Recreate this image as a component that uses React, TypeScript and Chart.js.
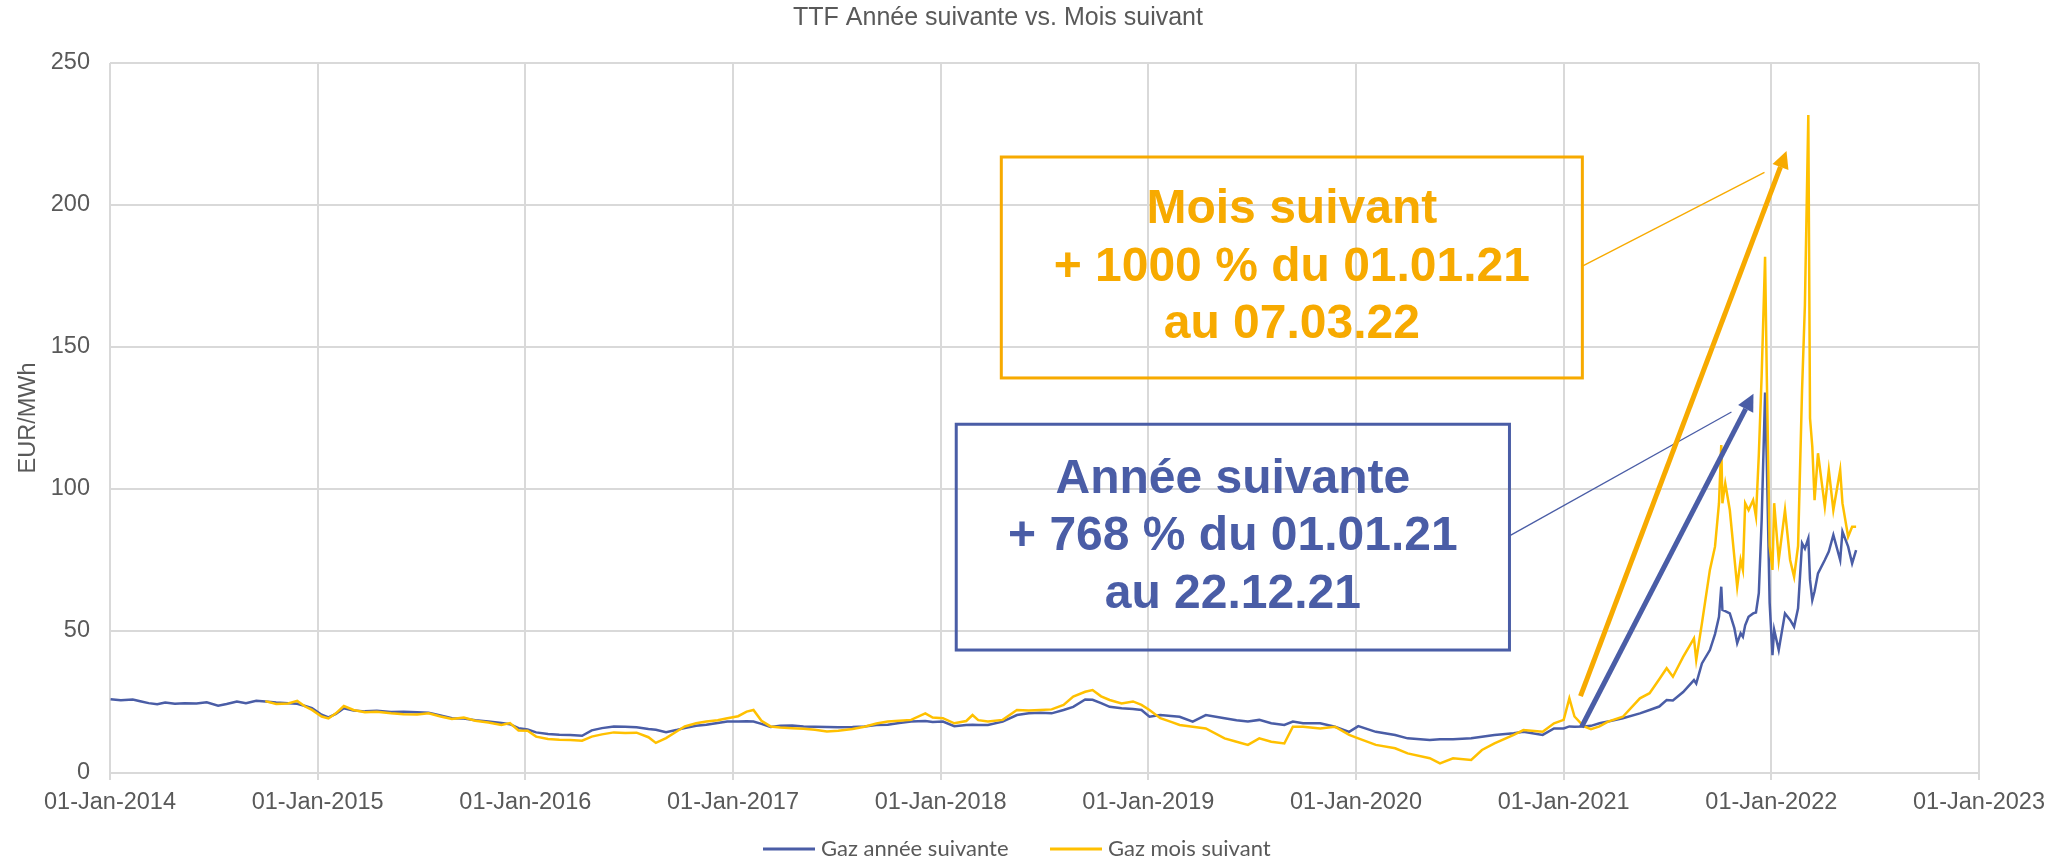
import React, { useEffect, useRef } from "react";
import { Chart, registerables } from "chart.js";

Chart.register(...registerables);

const TITLE = "TTF Année suivante vs. Mois suivant";
const Y_TITLE = "EUR/MWh";
const SERIES_NAMES = ["Gaz année suivante", "Gaz mois suivant"];
const X_TICKS = [2014, 2015, 2016, 2017, 2018, 2019, 2020, 2021, 2022, 2023];
const Y_TICKS = [0, 50, 100, 150, 200, 250];

const DATES = [
  "2014-01-02", "2014-01-20", "2014-02-10", "2014-02-25", "2014-03-10", "2014-03-25", "2014-04-08", "2014-04-25",
  "2014-05-12", "2014-06-02", "2014-06-20", "2014-07-10", "2014-07-25", "2014-08-12", "2014-08-28", "2014-09-15",
  "2014-10-01", "2014-10-20", "2014-11-10", "2014-11-26", "2014-12-10", "2014-12-22",
  "2015-01-08", "2015-01-20", "2015-02-02", "2015-02-16", "2015-03-05", "2015-03-25", "2015-04-15", "2015-05-10",
  "2015-06-01", "2015-06-25", "2015-07-15", "2015-08-05", "2015-08-25", "2015-09-15", "2015-10-05", "2015-10-28",
  "2015-11-20", "2015-12-05", "2015-12-20",
  "2016-01-05", "2016-01-20", "2016-02-10", "2016-03-01", "2016-03-20", "2016-04-10", "2016-04-27", "2016-05-15",
  "2016-06-05", "2016-06-25", "2016-07-15", "2016-08-05", "2016-08-18", "2016-09-05", "2016-09-25", "2016-10-08",
  "2016-10-28", "2016-11-15", "2016-12-05", "2016-12-22",
  "2017-01-10", "2017-01-25", "2017-02-06", "2017-02-20", "2017-03-08", "2017-03-25", "2017-04-15", "2017-05-05",
  "2017-05-25", "2017-06-15", "2017-07-05", "2017-07-30", "2017-08-20", "2017-09-10", "2017-09-30", "2017-10-20",
  "2017-11-10", "2017-12-05", "2017-12-18",
  "2018-01-05", "2018-01-25", "2018-02-15", "2018-02-26", "2018-03-08", "2018-03-25", "2018-04-20", "2018-05-15",
  "2018-06-05", "2018-06-25", "2018-07-15", "2018-08-05", "2018-08-22", "2018-09-12", "2018-09-25", "2018-10-10",
  "2018-10-25", "2018-11-15", "2018-12-05", "2018-12-20",
  "2019-01-03", "2019-01-22", "2019-02-10", "2019-02-25", "2019-03-20", "2019-04-12", "2019-05-15", "2019-06-05",
  "2019-06-25", "2019-07-15", "2019-08-05", "2019-08-28", "2019-09-12", "2019-09-30", "2019-10-30", "2019-11-25",
  "2019-12-20",
  "2020-01-05", "2020-02-05", "2020-03-10", "2020-04-01", "2020-05-10", "2020-05-28", "2020-06-20", "2020-07-22",
  "2020-08-10", "2020-09-01", "2020-10-05", "2020-10-22", "2020-11-25", "2020-12-15",
  "2021-01-01", "2021-01-11", "2021-01-20", "2021-02-05", "2021-02-18", "2021-03-05", "2021-03-20", "2021-04-15",
  "2021-05-15", "2021-06-01", "2021-06-18", "2021-07-01", "2021-07-12", "2021-07-30", "2021-08-18", "2021-08-22",
  "2021-09-01", "2021-09-15", "2021-09-24", "2021-10-01", "2021-10-05", "2021-10-07", "2021-10-12", "2021-10-20",
  "2021-10-28", "2021-11-02", "2021-11-08", "2021-11-12", "2021-11-16", "2021-11-22", "2021-11-30", "2021-12-05",
  "2021-12-10", "2021-12-15", "2021-12-21", "2021-12-24", "2021-12-29",
  "2022-01-03", "2022-01-06", "2022-01-14", "2022-01-25", "2022-02-03", "2022-02-10", "2022-02-17", "2022-02-24",
  "2022-03-01", "2022-03-07", "2022-03-10", "2022-03-14", "2022-03-18", "2022-03-24", "2022-04-05", "2022-04-12",
  "2022-04-20", "2022-05-02", "2022-05-06", "2022-05-16", "2022-05-23", "2022-05-30",
];

const ANNEE_SUIVANTE = [
  26.0, 25.6, 25.9, 25.2, 24.6, 24.2, 24.8, 24.4,
  24.6, 24.5, 24.9, 23.7, 24.3, 25.2, 24.6, 25.4,
  25.2, 24.8, 24.6, 24.4, 23.6, 22.8,
  20.5, 19.6, 20.8, 22.8, 22.0, 21.7, 21.9, 21.5,
  21.6, 21.4, 21.2, 20.3, 19.3, 19.2, 18.6, 18.1,
  17.6, 17.2, 15.8,
  15.3, 14.3, 13.7, 13.5, 13.4, 13.1, 15.0, 15.8,
  16.4, 16.3, 16.1, 15.5, 15.2, 14.4, 15.2, 15.8,
  16.6, 17.0, 17.6, 18.1,
  18.1, 18.2, 18.1, 17.3, 16.2, 16.6, 16.7, 16.4,
  16.3, 16.2, 16.1, 16.2, 16.4, 16.9, 17.0, 17.6,
  18.1, 18.3, 18.0,
  18.1, 16.5, 16.9, 17.0, 16.9, 16.9, 18.1, 20.4,
  21.0, 21.2, 21.0, 22.2, 23.3, 25.9, 25.8, 24.6,
  23.3, 22.8, 22.5, 22.2,
  19.8, 20.4, 20.1, 19.8, 18.1, 20.4, 19.3, 18.6,
  18.1, 18.7, 17.5, 16.9, 18.1, 17.5, 17.5, 16.3,
  14.5,
  16.5, 14.5, 13.4, 12.2, 11.6, 11.9, 11.9, 12.2,
  12.8, 13.4, 14.0, 14.5, 13.4, 15.7,
  15.7, 16.4, 16.3, 16.4, 16.6, 17.5, 18.1, 19.3,
  21.0, 22.2, 23.4, 25.7, 25.5, 28.5, 32.7, 31.5,
  38.6, 43.3, 48.9, 55.0, 65.6, 57.4, 57.0, 56.2,
  51.0, 45.7, 49.2, 48.0, 52.0, 55.0, 56.2, 56.5,
  63.3, 89.1, 134.0, 110.0, 60.0,
  41.5, 50.4, 43.3, 56.2, 53.9, 51.5, 58.0, 80.9,
  79.0, 82.6, 68.0, 60.9, 64.0, 70.3, 75.0, 78.0,
  83.8, 75.0, 85.0, 79.7, 73.8, 78.5,
];

const MOIS_SUIVANT = [
  null, null, null, null, null, null, null, null,
  null, null, null, null, null, null, null, null,
  25.3, 24.3, 24.5, 25.4, 23.4, 22.2,
  19.9, 19.2, 21.0, 23.6, 22.2, 21.4, 21.6, 21.0,
  20.7, 20.6, 21.0, 19.9, 19.0, 19.5, 18.4, 17.8,
  16.9, 17.6, 15.0,
  14.9, 12.8, 12.0, 11.7, 11.6, 11.4, 12.8, 13.6,
  14.3, 14.1, 14.2, 12.6, 10.6, 12.3, 14.8, 16.4,
  17.5, 18.1, 18.6, 19.3,
  20.0, 21.6, 22.2, 18.4, 16.4, 16.0, 15.8, 15.6,
  15.2, 14.6, 14.9, 15.5, 16.3, 17.4, 18.1, 18.4,
  18.7, 21.0, 19.5,
  19.3, 17.5, 18.3, 20.4, 18.6, 18.1, 18.7, 22.2,
  22.0, 22.2, 22.4, 24.0, 26.9, 28.6, 29.2, 27.0,
  25.7, 24.5, 25.2, 24.0,
  22.2, 19.3, 18.0, 16.9, 16.3, 15.7, 12.2, 11.0,
  9.9, 12.2, 11.0, 10.4, 16.3, 16.3, 15.7, 16.3,
  13.4,
  12.2, 9.9, 8.7, 6.9, 5.2, 3.4, 5.2, 4.6,
  8.1, 10.4, 13.4, 15.1, 14.5, 17.5,
  18.7, 26.3, 19.9, 16.5, 15.4, 16.4, 18.1, 19.8,
  26.3, 28.1, 33.0, 36.9, 33.9, 40.9, 47.4, 39.8,
  52.7, 71.5, 79.7, 95.0, 115.5, 95.0, 102.0, 92.6,
  76.0, 65.6, 75.0, 71.5, 95.0, 92.6, 96.1, 90.3,
  112.0, 140.0, 181.8, 140.0, 80.0,
  71.5, 95.0, 75.0, 92.6, 75.0, 69.1, 80.0, 134.9,
  164.8, 231.7, 124.9, 114.9, 96.1, 112.6, 93.8, 106.7,
  92.6, 106.7, 95.0, 83.2, 86.7, 86.7,
];

// Annotations, expressed in axis units (decimal years, EUR/MWh)
const BOXES = [
  { lines: ["Mois suivant", "+ 1000 % du 01.01.21", "au 07.03.22"], color: "#F7AA00", x0: 2018.292, x1: 2021.09, yTop: 216.9, yBottom: 139.1 },
  { lines: ["Année suivante", "+ 768 % du 01.01.21", "au 22.12.21"], color: "#4A5DA6", x0: 2018.075, x1: 2020.739, yTop: 122.8, yBottom: 43.3 },
];
const CONNECTORS = [
  { color: "#F7AA00", from: [2021.09, 178.5], to: [2021.967, 211.5] },
  { color: "#4A5DA6", from: [2020.739, 83.5], to: [2021.808, 127.1] },
];
const ARROWS = [
  { color: "#F7AA00", from: [2021.081, 27.1], to: [2022.073, 219.0] },
  { color: "#4A5DA6", from: [2021.086, 16.2], to: [2021.914, 133.5] },
];

const BLUE = "#4A5DA6";
const GOLD = "#FFC000";
const TEXT_GREY = "#595959";
const GRID = "#D9D9D9";
const SANS = "'Liberation Sans', Arial, sans-serif";

function toYear(d: string): number {
  const [y, m, day] = d.split("-").map(Number);
  const start = Date.UTC(y, 0, 1);
  const end = Date.UTC(y + 1, 0, 1);
  return y + (Date.UTC(y, m - 1, day) - start) / (end - start);
}

function drawArrow(ctx: CanvasRenderingContext2D, x0: number, y0: number, x1: number, y1: number, color: string) {
  const w = 5, headLen = 17, headW = 17;
  const ang = Math.atan2(y1 - y0, x1 - x0);
  const bx = x1 - headLen * Math.cos(ang);
  const by = y1 - headLen * Math.sin(ang);
  ctx.strokeStyle = color;
  ctx.lineWidth = w;
  ctx.lineCap = "butt";
  ctx.beginPath();
  ctx.moveTo(x0, y0);
  ctx.lineTo(bx, by);
  ctx.stroke();
  ctx.fillStyle = color;
  ctx.beginPath();
  ctx.moveTo(x1, y1);
  ctx.lineTo(bx + (headW / 2) * Math.sin(ang), by - (headW / 2) * Math.cos(ang));
  ctx.lineTo(bx - (headW / 2) * Math.sin(ang), by + (headW / 2) * Math.cos(ang));
  ctx.closePath();
  ctx.fill();
}

const decorPlugin = {
  id: "ttfDecor",
  afterDatasetsDraw(chart: any) {
    const { ctx } = chart;
    const xs = chart.scales.x;
    const ys = chart.scales.y;
    const px = (v: number) => xs.getPixelForValue(v);
    const py = (v: number) => ys.getPixelForValue(v);
    ctx.save();
    BOXES.forEach((b) => {
      const x0 = px(b.x0), x1 = px(b.x1), y0 = py(b.yTop), y1 = py(b.yBottom);
      ctx.strokeStyle = b.color;
      ctx.lineWidth = 3;
      ctx.strokeRect(x0, y0, x1 - x0, y1 - y0);
      ctx.fillStyle = b.color;
      ctx.font = `bold 48px ${SANS}`;
      ctx.textAlign = "center";
      ctx.textBaseline = "middle";
      const cx = (x0 + x1) / 2;
      const cy = (y0 + y1) / 2;
      const lh = 57.6;
      b.lines.forEach((t, i) => ctx.fillText(t, cx, cy + (i - (b.lines.length - 1) / 2) * lh));
    });
    CONNECTORS.forEach((c) => {
      ctx.strokeStyle = c.color;
      ctx.lineWidth = 1.3;
      ctx.beginPath();
      ctx.moveTo(px(c.from[0]), py(c.from[1]));
      ctx.lineTo(px(c.to[0]), py(c.to[1]));
      ctx.stroke();
    });
    ARROWS.forEach((a) => drawArrow(ctx, px(a.from[0]), py(a.from[1]), px(a.to[0]), py(a.to[1]), a.color));
    ctx.restore();
  },
  afterDraw(chart: any) {
    const { ctx } = chart;
    ctx.save();
    // title
    ctx.fillStyle = TEXT_GREY;
    ctx.font = `25px ${SANS}`;
    ctx.textAlign = "center";
    ctx.textBaseline = "middle";
    ctx.fillText(TITLE, 998, 18);
    // legend
    const items = [
      { label: SERIES_NAMES[0], color: BLUE, x: 763 },
      { label: SERIES_NAMES[1], color: GOLD, x: 1050 },
    ];
    const ly = 849;
    ctx.font = "22px Lato, 'Noto Sans', sans-serif";
    ctx.textAlign = "left";
    items.forEach((it) => {
      ctx.strokeStyle = it.color;
      ctx.lineWidth = 3;
      ctx.beginPath();
      ctx.moveTo(it.x, ly);
      ctx.lineTo(it.x + 52, ly);
      ctx.stroke();
      ctx.fillStyle = TEXT_GREY;
      ctx.fillText(it.label, it.x + 58, ly);
    });
    ctx.restore();
  },
};

export default function App() {
  const ref = useRef<HTMLCanvasElement | null>(null);

  useEffect(() => {
    if (!ref.current) return;
    const xs = DATES.map(toYear);
    const chart = new Chart(ref.current, {
      type: "line",
      data: {
        datasets: [
          {
            label: SERIES_NAMES[0],
            data: xs.map((x, i) => ({ x, y: ANNEE_SUIVANTE[i] })),
            borderColor: BLUE,
            backgroundColor: BLUE,
            borderWidth: 2.5,
            pointRadius: 0,
            tension: 0,
            order: 1,
          },
          {
            label: SERIES_NAMES[1],
            data: xs.map((x, i) => ({ x, y: MOIS_SUIVANT[i] })),
            borderColor: GOLD,
            backgroundColor: GOLD,
            borderWidth: 2.5,
            pointRadius: 0,
            tension: 0,
            order: 0,
          },
        ] as any,
      },
      options: {
        animation: false,
        responsive: false,
        devicePixelRatio: 1,
        layout: { padding: { top: 63, right: 93, left: 0, bottom: 0 } },
        plugins: {
          legend: { display: false },
          title: { display: false },
          tooltip: { enabled: false },
        },
        scales: {
          x: {
            type: "linear",
            min: 2014,
            max: 2023,
            afterFit: (s: any) => { s.height = 90; },
            afterBuildTicks: (s: any) => { s.ticks = X_TICKS.map((v) => ({ value: v })); },
            grid: { color: GRID, lineWidth: 2, drawTicks: true, tickLength: 7, tickColor: GRID },
            border: { display: false },
            ticks: {
              autoSkip: false,
              maxRotation: 0,
              padding: 8,
              color: TEXT_GREY,
              font: { family: SANS, size: 23.5 },
              callback: (v: any) => "01-Jan-" + v,
            },
          },
          y: {
            type: "linear",
            min: 0,
            max: 250,
            afterFit: (s: any) => { s.width = 110; },
            afterBuildTicks: (s: any) => { s.ticks = Y_TICKS.map((v) => ({ value: v })); },
            grid: { color: GRID, lineWidth: 2, drawTicks: false },
            border: { display: false },
            ticks: {
              padding: 20,
              color: TEXT_GREY,
              font: { family: SANS, size: 23.5 },
            },
            title: {
              display: true,
              text: Y_TITLE,
              color: TEXT_GREY,
              font: { family: SANS, size: 23.5 },
              padding: { top: 14, bottom: 0 },
            },
          },
        },
      } as any,
      plugins: [decorPlugin],
    });
    return () => chart.destroy();
  }, []);

  return (
    <div style={{ position: "fixed", left: 0, top: 0, width: 2072, height: 863, background: "#fff" }}>
      <canvas ref={ref} width={2072} height={863} style={{ display: "block" }} />
    </div>
  );
}
